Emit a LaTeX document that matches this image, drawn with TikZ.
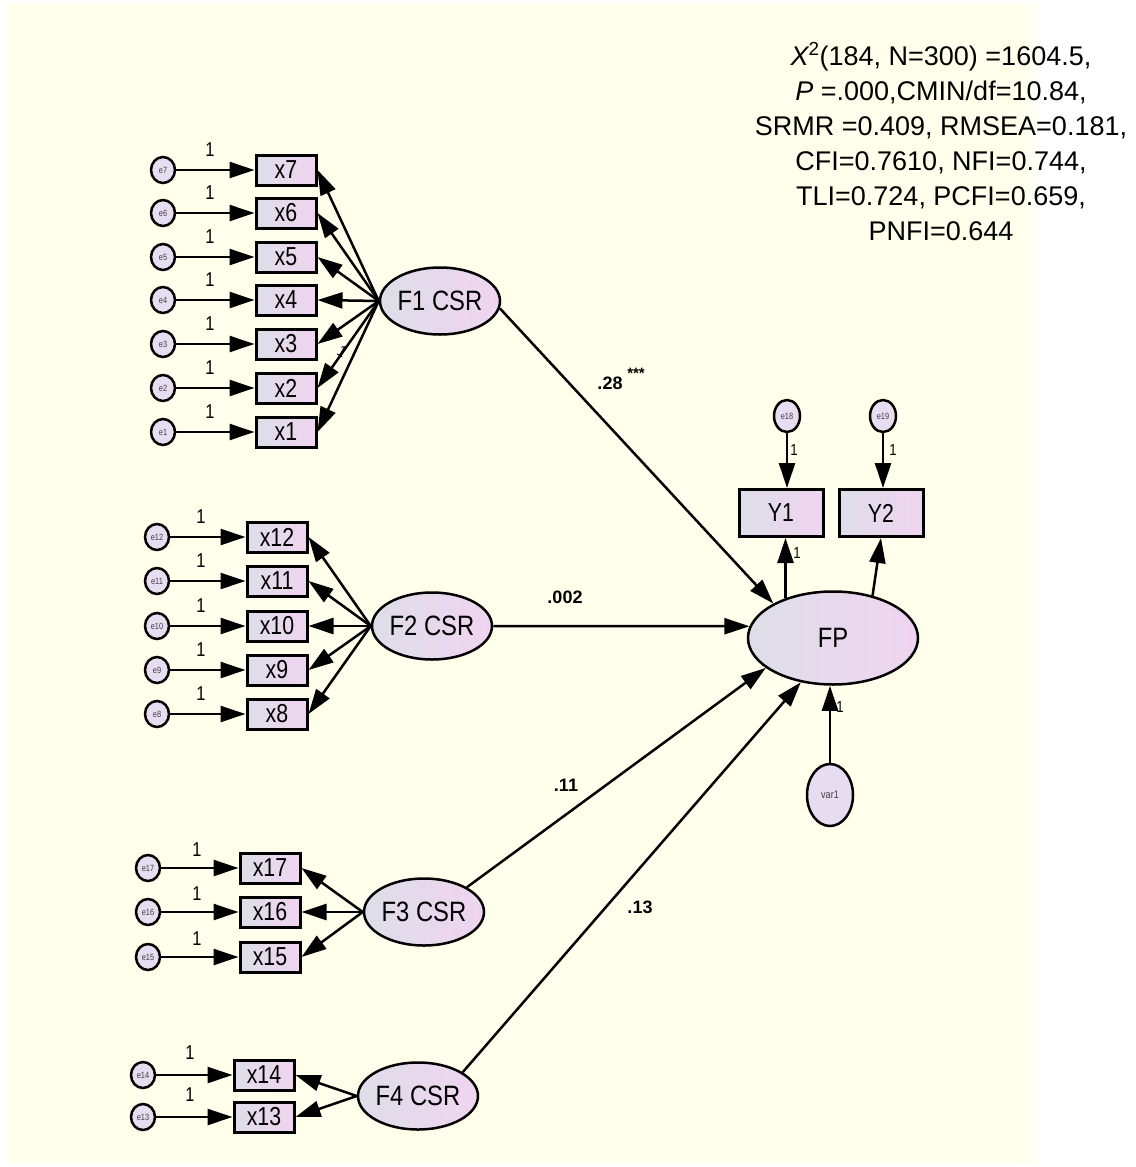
\documentclass[tikz,border=0pt]{standalone}
\usepackage{fontspec}
\setmainfont{Liberation Sans}
\newfontfamily\narrowsans[FakeStretch=0.82]{Liberation Sans}
\newfontfamily\latsans[FakeStretch=0.85]{Liberation Sans}
\usetikzlibrary{arrows.meta,shapes.geometric,shadings}
\definecolor{cream}{RGB}{255,255,236}
\definecolor{boxL}{RGB}{222,222,232}
\definecolor{boxR}{RGB}{240,212,240}
\definecolor{errfill}{RGB}{232,220,240}
\tikzset{
  obs/.style={draw, line width=3pt, left color=boxL, right color=boxR, minimum width=60pt, minimum height=30pt, inner sep=0pt, font=\narrowsans\fontsize{26}{26}\selectfont},
  ybox/.style={obs, minimum width=84pt, minimum height=47pt},
  lat/.style={ellipse, draw, line width=2.5pt, left color=boxL, right color=boxR, minimum width=120pt, minimum height=67pt, inner sep=0pt, font=\latsans\fontsize{28}{28}\selectfont},
  err/.style={ellipse, draw, line width=2.5pt, fill=errfill, minimum width=24pt, minimum height=26pt, inner sep=0pt, font=\narrowsans\fontsize{9}{9}\selectfont, text=black!75},
  arr/.style={-{Triangle[length=25pt,width=16pt]}, line width=2.5pt},
  one/.style={font=\narrowsans\fontsize{20}{20}\selectfont, inner sep=0pt},
  sone/.style={font=\narrowsans\fontsize{16}{16}\selectfont, inner sep=0pt},
  coef/.style={font=\bfseries\fontsize{18}{18}\selectfont, inner sep=0pt},
  stat/.style={font=\fontsize{27}{35}\selectfont, inner sep=0pt, anchor=base},
}
\begin{document}
\begin{tikzpicture}[x=1pt,y=-1pt]
\useasboundingbox (0,0) rectangle (1135,1167);
\fill[white] (0,0) rectangle (1135,1167);
\fill[cream] (7,3) rectangle (1022,1163);
\shade[left color=cream, right color=white] (1022,3) rectangle (1048,1163);

% latent factors
\node[lat] (F1) at (440,301) {F1 CSR};
\node[lat] (F2) at (432,626) {F2 CSR};
\node[lat] (F3) at (424,912) {F3 CSR};
\node[lat] (F4) at (418,1096) {F4 CSR};
\node[lat, minimum width=170pt, minimum height=93pt] (FP) at (833,638) {FP};

% F1 block
\foreach \i/\y in {7/170,6/213,5/257,4/300,3/344,2/388,1/432} {
  \node[err] (e\i) at (163,\y) {e\i};
  \node[obs] (x\i) at (286,\y) {x\i};
  \draw[arr] (e\i) -- (x\i);
  \node[one] (l\i) at (210,\y-20) {1};
  \draw[arr] (F1.west) -- (x\i.east);
}
\node[sone, rotate=-30] (l2b) at (342,352) {1};

% F2 block
\foreach \i/\y in {12/537,11/581,10/626,9/670,8/714} {
  \node[err] (e\i) at (157,\y) {e\i};
  \node[obs] (x\i) at (277,\y) {x\i};
  \draw[arr] (e\i) -- (x\i);
  \node[one] (l\i) at (201,\y-20) {1};
  \draw[arr] (F2.west) -- (x\i.east);
}

% F3 block
\foreach \i/\y in {17/868,16/912,15/957} {
  \node[err] (e\i) at (148,\y) {e\i};
  \node[obs] (x\i) at (270,\y) {x\i};
  \draw[arr] (e\i) -- (x\i);
  \node[one] (l\i) at (197,\y-18) {1};
  \draw[arr] (F3.west) -- (x\i.east);
}

% F4 block
\foreach \i/\y in {14/1075,13/1117} {
  \node[err] (e\i) at (143,\y) {e\i};
  \node[obs] (x\i) at (264,\y) {x\i};
  \draw[arr] (e\i) -- (x\i);
  \node[one] (l\i) at (190,\y-22) {1};
  \draw[arr] (F4.west) -- (x\i.east);
}

% structural paths
\draw[arr] (F1.-7) -- (FP.150);
\draw[arr] (F2.east) -- (FP.172);
\draw[arr] (F3.30) -- (FP.204);
\draw[arr] (F4.28) -- (FP.234);

\node[coef] (c1) at (610,383) {.28};
\node[coef, font=\bfseries\fontsize{15}{15}\selectfont] (c1s) at (636,373) {***};
\node[coef] (c2) at (565,597) {.002};
\node[coef] (c3) at (566,785) {.11};
\node[coef] (c4) at (640,907) {.13};

% FP indicators
\node[ybox] (Y1) at (781,513) {Y1};
\node[ybox] (Y2) at (881,513) {Y2};
\node[err, minimum width=26pt, minimum height=32pt] (e18) at (787,416) {e18};
\node[err, minimum width=26pt, minimum height=32pt] (e19) at (883,416) {e19};
\draw[arr] (e18) -- (e18 |- Y1.north);
\draw[arr] (e19) -- (e19 |- Y2.north);
\draw[arr] (FP.140) -- (FP.140 |- Y1.south);
\draw[arr] (FP.47) -- (Y2.south);
\node[sone] (l18) at (794,450) {1};
\node[sone] (l19) at (893,450) {1};
\node[sone] (lY1) at (797,553) {1};

\node[err, minimum width=46pt, minimum height=62pt, font=\narrowsans\fontsize{11}{11}\selectfont] (var1) at (830,795) {var1};
\draw[arr] (var1) -- (var1 |- FP.south);
\node[sone] (lv) at (840,707) {1};

% fit statistics
\node[stat] (s1) at (941,65) {{\itshape X}\textsuperscript{2}(184, N=300) =1604.5,};
\node[stat] (s2) at (941,100) {{\itshape P} =.000,CMIN/df=10.84,};
\node[stat] (s3) at (941,135) {SRMR =0.409, RMSEA=0.181,};
\node[stat] (s4) at (941,170) {CFI=0.7610, NFI=0.744,};
\node[stat] (s5) at (941,205) {TLI=0.724, PCFI=0.659,};
\node[stat] (s6) at (941,240) {PNFI=0.644};
\end{tikzpicture}
\end{document}
